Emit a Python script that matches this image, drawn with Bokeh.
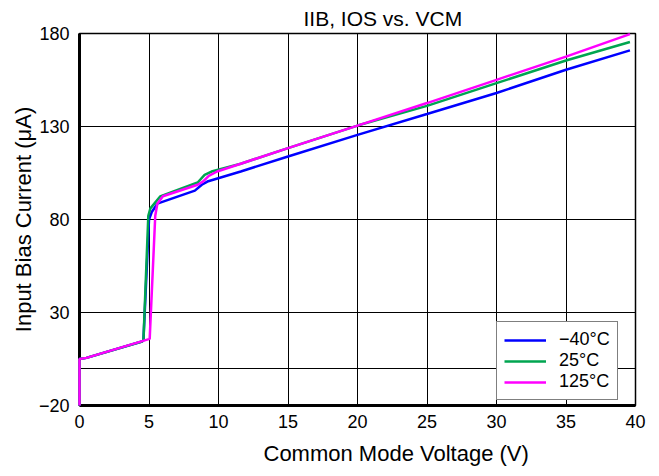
from bokeh.plotting import figure
from bokeh.models import FixedTicker, Legend, LegendItem, Range1d, Title
from bokeh.embed import file_html
from bokeh.resources import INLINE

# ---- data ----
x_ticks = [0, 5, 10, 15, 20, 25, 30, 35, 40]
y_ticks = [-20, 0, 30, 80, 130, 180]
y_tick_labels = {-20: "\u221220", 0: "", 30: "30", 80: "80", 130: "130", 180: "180"}

vcm_m40 = [0, 0, 0.5, 4.5, 4.6, 5.0, 5.2, 5.6, 8.3, 8.8, 9.2, 11.6, 15, 20, 25, 30, 35, 39.6]
ib_m40 = [-20, 5, 5.6, 14.4, 15, 80, 84, 88.5, 95.5, 98.7, 100.4, 105.8, 113.9, 125.5, 136.7, 148, 160.5, 170.9]

vcm_25 = [0, 0, 0.5, 4.5, 4.6, 4.95, 5.1, 5.8, 8.5, 9.0, 9.5, 11.6, 15, 20, 25, 30, 35, 39.6]
ib_25 = [-20, 5, 5.6, 14.4, 15, 82, 86, 92.4, 99.9, 104, 105.8, 110, 118.4, 130.5, 141.1, 153.3, 165.5, 175.4]

vcm_125 = [0, 0, 0.5, 5.05, 5.45, 5.6, 6.0, 8.5, 8.9, 9.3, 9.9, 11.6, 15, 20, 25, 30, 35, 39.6]
ib_125 = [-20, 5, 5.6, 15.8, 82, 88.5, 92.5, 98.7, 100.5, 103.5, 105.8, 110, 118.4, 130.5, 142.6, 155.1, 167.6, 179.7]

series_labels = ["\u221240\u00b0C", "25\u00b0C", "125\u00b0C"]
series_colors = ["#0000FF", "#00A550", "#FF00FF"]

FONT = "Liberation Sans"

p = figure(width=659, height=476, output_backend="svg", toolbar_location=None,
           x_range=Range1d(0, 40), y_range=Range1d(-20, 180),
           min_border_left=79, min_border_right=24, min_border_top=33, min_border_bottom=71,
           title="IIB, IOS vs. VCM")

p.title.text_font = FONT
p.title.text_font_size = "21px"
p.title.text_font_style = "normal"
p.title.text_color = "black"
p.title.align = "left"
p.title.offset = 224
p.title.standoff = 8

p.outline_line_color = "black"
p.outline_line_width = 1.5
p.background_fill_color = "white"
p.border_fill_color = "white"

p.xaxis.ticker = FixedTicker(ticks=x_ticks)
p.yaxis.ticker = FixedTicker(ticks=y_ticks)
p.yaxis.major_label_overrides = y_tick_labels
p.xgrid.ticker = FixedTicker(ticks=x_ticks)
p.ygrid.ticker = FixedTicker(ticks=y_ticks)
for g in (p.xgrid, p.ygrid):
    g.grid_line_color = "black"
    g.grid_line_width = 1
    g.grid_line_alpha = 1

for ax in (p.xaxis, p.yaxis):
    ax.axis_line_width = 3
    ax.axis_line_color = "black"
    ax.major_tick_in = 0
    ax.major_tick_out = 0
    ax.minor_tick_in = 0
    ax.minor_tick_out = 0
    ax.major_label_text_font = FONT
    ax.major_label_text_font_size = "18px"
    ax.major_label_text_color = "black"
    ax.axis_label_text_font = FONT
    ax.axis_label_text_font_size = "22px"
    ax.axis_label_text_font_style = "normal"
    ax.axis_label_text_color = "black"

p.yaxis.axis_label = "Input Bias Current (\u03bcA)"
p.xaxis.major_label_standoff = 9
p.yaxis.major_label_standoff = 10
p.yaxis.axis_label_standoff = 0

# x-axis title, shifted right of the frame centre as in the reference
xtitle = Title(text="Common Mode Voltage (V)", align="left", offset=184,
               text_font=FONT, text_font_size="22px", text_font_style="normal",
               text_color="black", standoff=16)
p.add_layout(xtitle, "below")

renderers = []
for xs, ys, c in ((vcm_m40, ib_m40, series_colors[0]),
                  (vcm_25, ib_25, series_colors[1]),
                  (vcm_125, ib_125, series_colors[2])):
    r = p.line(xs, ys, line_color=c, line_width=2.5, level="overlay")
    renderers.append(r)

legend = Legend(items=[LegendItem(label=lab, renderers=[r]) for lab, r in zip(series_labels, renderers)],
                location=(417, 5))
legend.border_line_color = "black"
legend.border_line_width = 1
legend.background_fill_color = "white"
legend.background_fill_alpha = 1
legend.label_text_font = FONT
legend.label_text_font_size = "18px"
legend.label_text_color = "black"
legend.glyph_width = 42
legend.glyph_height = 20
legend.label_height = 20
legend.label_standoff = 13
legend.spacing = 0
legend.padding = 7
legend.margin = 0
p.add_layout(legend, "center")

open("out.html", "w").write(file_html(p, INLINE))
